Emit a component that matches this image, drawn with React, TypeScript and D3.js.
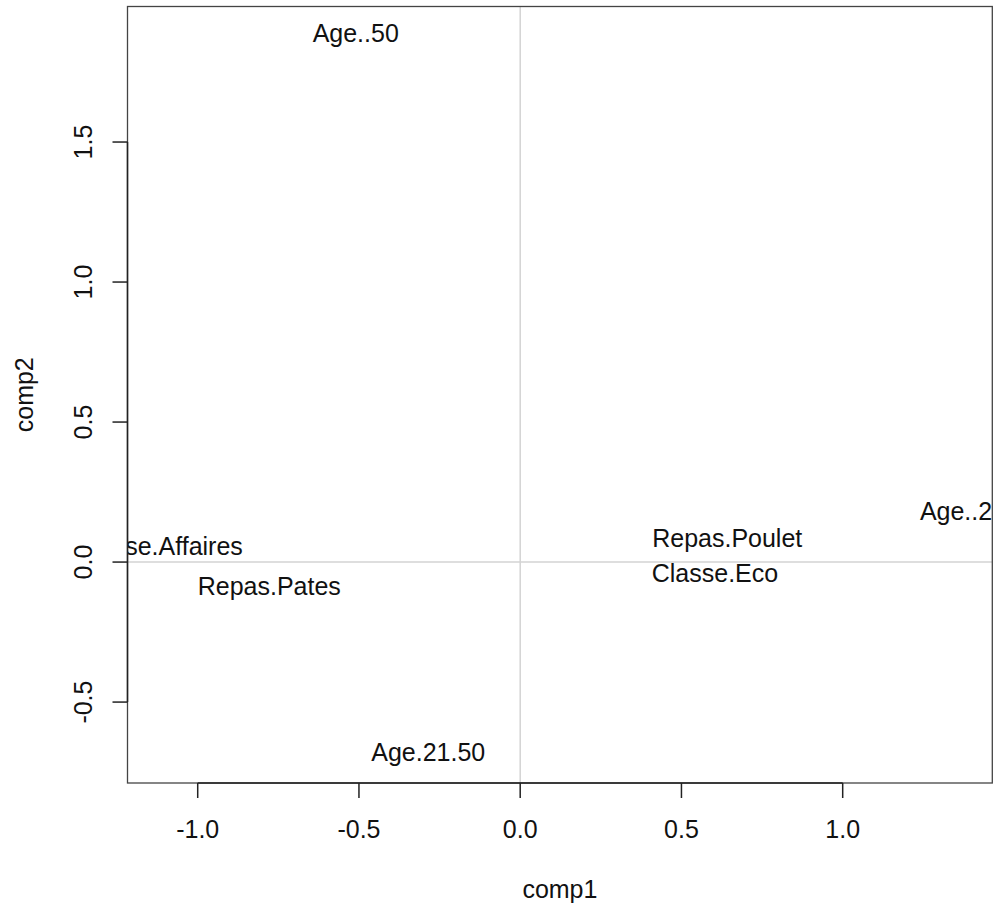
import React from 'react';
import * as d3 from 'd3';

// MCA-like factor map: modality labels on comp1 / comp2
const LABELS = [
  'Age..50',
  'Age.21.50',
  'Repas.Pates',
  'Classe.Affaires',
  'Repas.Poulet',
  'Classe.Eco',
  'Age..20',
];
const COMP1 = [-0.51, -0.285, -0.778, -1.12, 0.642, 0.604, 1.373];
const COMP2 = [1.891, -0.68, -0.085, 0.058, 0.086, -0.039, 0.183];

const X_TICKS = [-1.0, -0.5, 0.0, 0.5, 1.0];
const Y_TICKS = [-0.5, 0.0, 0.5, 1.0, 1.5];
const X_LIMITS = [-1.2177, 1.4639];
const Y_LIMITS = [-0.789, 1.984];

const W = 995;
const H = 907;
const margin = { top: 6.5, right: 2.7, bottom: 124, left: 127.5 };
const FONT = '"Liberation Sans", Arial, Helvetica, sans-serif';
const FS = 25;

export default function App() {
  const x = d3.scaleLinear().domain(X_LIMITS).range([margin.left, W - margin.right]);
  const y = d3.scaleLinear().domain(Y_LIMITS).range([H - margin.bottom, margin.top]);

  const [x0, x1] = x.range();
  const [yb, yt] = y.range();

  const points = LABELS.map((label, i) => ({ label, cx: COMP1[i], cy: COMP2[i] }));

  return (
    <div style={{ position: 'absolute', left: 0, top: 0 }}>
      <svg width={W} height={H} style={{ display: 'block', background: '#fff' }} fontFamily={FONT}>
        <defs>
          <clipPath id="plot-clip">
            <rect x={x0} y={yt} width={x1 - x0} height={yb - yt} />
          </clipPath>
        </defs>

        {/* reference lines at 0 */}
        <g clipPath="url(#plot-clip)">
          <line x1={x(0)} x2={x(0)} y1={yt} y2={yb} stroke="#d3d3d3" strokeWidth={1.5} />
          <line x1={x0} x2={x1} y1={y(0)} y2={y(0)} stroke="#d3d3d3" strokeWidth={1.5} />
          {points.map(d => (
            <text
              key={d.label}
              x={x(d.cx)}
              y={y(d.cy)}
              dy="0.36em"
              textAnchor="middle"
              fontSize={FS}
              fill="#111"
            >
              {d.label}
            </text>
          ))}
        </g>

        {/* box */}
        <rect x={x0} y={yt} width={x1 - x0} height={yb - yt} fill="none" stroke="#444" strokeWidth={1.3} />

        {/* x axis */}
        <g>
          <line x1={x(X_TICKS[0])} x2={x(X_TICKS[X_TICKS.length - 1])} y1={yb} y2={yb} stroke="#222" strokeWidth={1.5} />
          {X_TICKS.map(t => (
            <g key={t}>
              <line x1={x(t)} x2={x(t)} y1={yb} y2={yb + 15} stroke="#222" strokeWidth={1.5} />
              <text x={x(t)} y={yb + 55} textAnchor="middle" fontSize={FS} fill="#111">
                {t.toFixed(1)}
              </text>
            </g>
          ))}
          <text x={(x0 + x1) / 2} y={898} textAnchor="middle" fontSize={FS} fill="#111">
            comp1
          </text>
        </g>

        {/* y axis */}
        <g>
          <line x1={x0} x2={x0} y1={y(Y_TICKS[0])} y2={y(Y_TICKS[Y_TICKS.length - 1])} stroke="#222" strokeWidth={1.5} />
          {Y_TICKS.map(t => (
            <g key={t}>
              <line x1={x0 - 15} x2={x0} y1={y(t)} y2={y(t)} stroke="#222" strokeWidth={1.5} />
              <text
                transform={`translate(${x0 - 35.5},${y(t)}) rotate(-90)`}
                textAnchor="middle"
                fontSize={FS}
                fill="#111"
              >
                {t.toFixed(1)}
              </text>
            </g>
          ))}
          <text
            transform={`translate(33,${(yt + yb) / 2}) rotate(-90)`}
            textAnchor="middle"
            fontSize={FS}
            fill="#111"
          >
            comp2
          </text>
        </g>
      </svg>
    </div>
  );
}
